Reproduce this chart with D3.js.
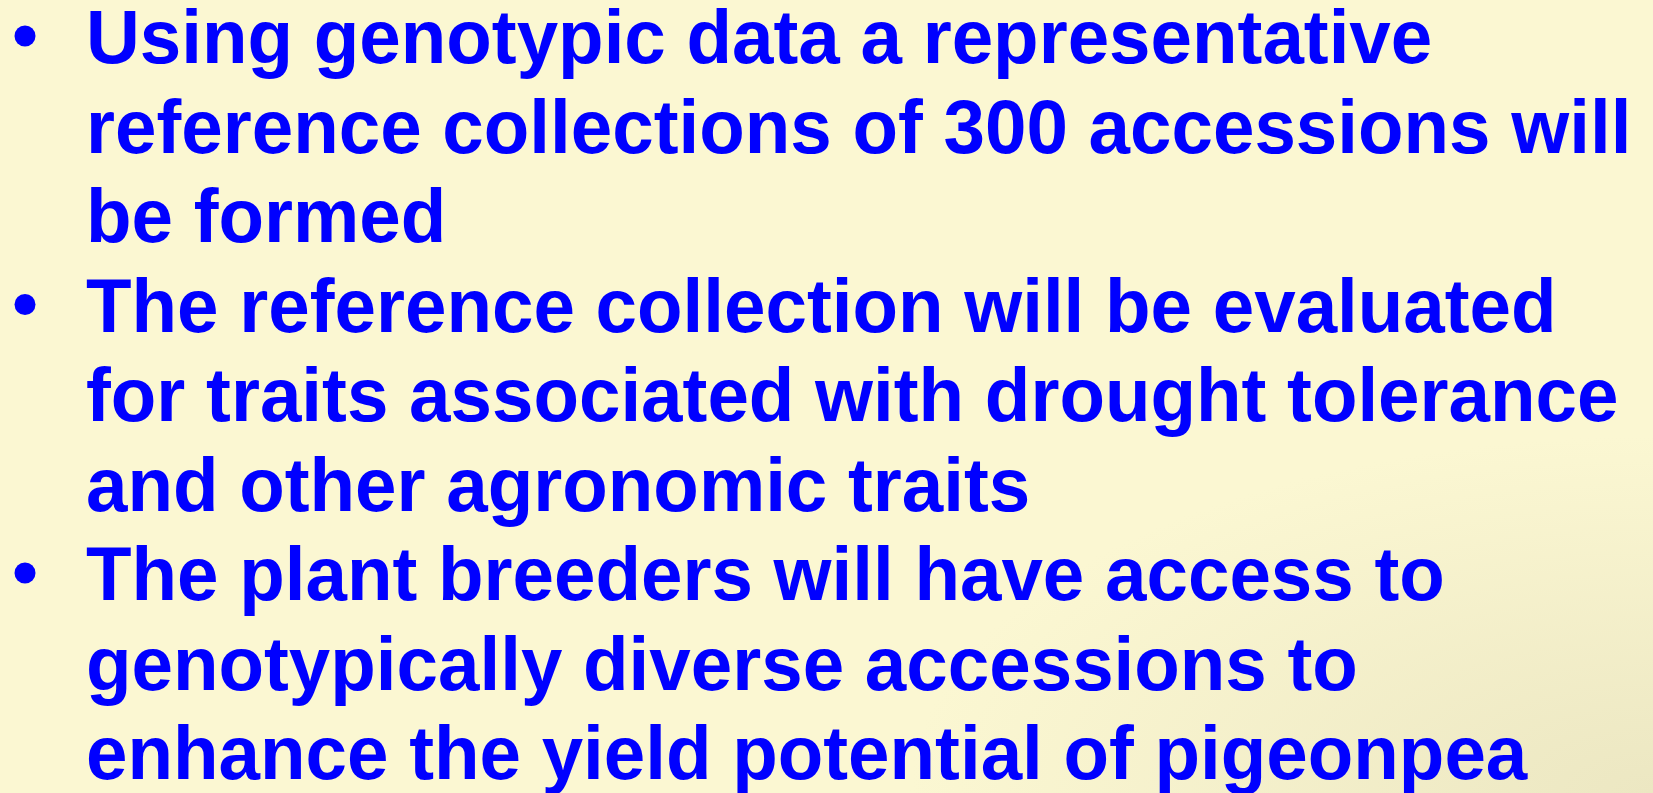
<!DOCTYPE html>
<html>
<head>
<meta charset="utf-8">
<script src="https://cdn.jsdelivr.net/npm/d3@7.9.0/dist/d3.min.js"></script>
<style>
  html, body { margin: 0; padding: 0; background: #fbf7d2; overflow: hidden; }
  svg { display: block; }
</style>
</head>
<body>
<svg id="slide"></svg>
<script>
// Slide text, one array per bullet (already wrapped as in the slide)
const bullet1 = ['Using genotypic data a representative',
                 'reference collections of 300 accessions will',
                 'be formed'];
const bullet2 = ['The reference collection will be evaluated',
                 'for traits associated with drought tolerance',
                 'and other agronomic traits'];
const bullet3 = ['The plant breeders will have access to',
                 'genotypically diverse accessions to',
                 'enhance the yield potential of pigeonpea'];
const bullets = [bullet1, bullet2, bullet3];

const width = 1653, height = 793;

// flatten into lines with their row number
let lines = [];
bullets.forEach((b, bi) => {
  b.forEach((t, li) => lines.push({ text: t, bullet: bi, first: li === 0 }));
});
lines.forEach((d, i) => d.row = i);

// row -> baseline
let y = d3.scaleLinear().domain([0, lines.length - 1]).range([63, 779]);

let svg = d3.select('#slide')
  .attr('width', width)
  .attr('height', height);

// background with a faint darker patch bottom right
let defs = svg.append('defs');
let grad = defs.append('radialGradient')
  .attr('id', 'bg')
  .attr('cx', 1).attr('cy', 1).attr('r', 0.45);
grad.append('stop').attr('offset', 0).attr('stop-color', '#ece7c2');
grad.append('stop').attr('offset', 1).attr('stop-color', '#fbf7d2');

svg.append('rect')
  .attr('width', width)
  .attr('height', height)
  .attr('fill', 'url(#bg)');

let g = svg.append('g')
  .attr('font-family', '"Liberation Sans", Arial, Helvetica, sans-serif')
  .attr('font-weight', 'bold')
  .attr('fill', '#0000ff');

// bullets
g.selectAll('circle')
  .data(lines.filter(d => d.first))
  .enter()
  .append('circle')
  .attr('cx', 25)
  .attr('cy', d => y(d.row) - 27)
  .attr('r', 10.5);

// text lines (slightly narrowed, like the slide's font)
g.selectAll('text')
  .data(lines)
  .enter()
  .append('text')
  .attr('transform', d => `translate(86,${y(d.row)}) scale(0.981,1)`)
  .attr('font-size', 76)
  .text(d => d.text);
</script>
</body>
</html>
